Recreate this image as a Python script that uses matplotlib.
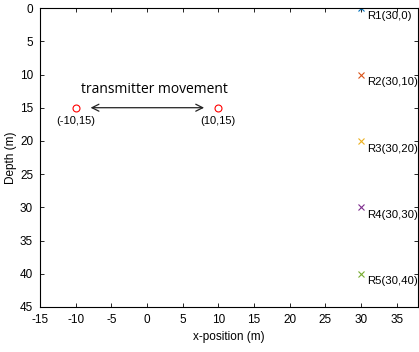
import matplotlib
matplotlib.use("Agg")
import matplotlib.pyplot as plt

# --- Data ---------------------------------------------------------------------
tx_x = [-10, 10]
tx_y = [15, 15]
tx_labels = ["(-10,15)", "(10,15)"]

rx_x = [30, 30, 30, 30, 30]
rx_y = [0, 10, 20, 30, 40]
rx_labels = ["R1(30,0)", "R2(30,10)", "R3(30,20)", "R4(30,30)", "R5(30,40)"]
rx_colors = ["#0072BD", "#D95319", "#EDB120", "#7E2F8E", "#77AC30"]

x_ticks = [-15, -10, -5, 0, 5, 10, 15, 20, 25, 30, 35]
y_ticks = [0, 5, 10, 15, 20, 25, 30, 35, 40, 45]

plt.rcParams["font.family"] = ["Liberation Sans", "DejaVu Sans"]
plt.rcParams["axes.unicode_minus"] = False

fig = plt.figure(figsize=(4.19, 3.52), dpi=100)
ax = fig.add_axes([0.0955, 0.128, 0.9021, 0.849])

# transmitter positions
ax.plot(tx_x, tx_y, "o", mfc="none", mec="#FF0000", ms=5, mew=0.8, ls="none")
for x, y, t in zip(tx_x, tx_y, tx_labels):
    ax.text(x, y + 1.2, t, ha="center", va="top", fontsize=8)

# movement arrow
ax.annotate("", xy=(-8.3, 15), xytext=(8.4, 15),
            arrowprops=dict(arrowstyle="<->,head_length=0.5,head_width=0.25",
                            color="#222222", lw=0.9))
ax.text(1.0, 13.4, "transmitter movement", ha="center", va="bottom",
        fontsize=10, family=["Open Sans", "DejaVu Sans"])

# receivers
for x, y, t, c in zip(rx_x, rx_y, rx_labels, rx_colors):
    ax.plot(x, y, "x", color=c, ms=5, mew=0.8)
    ax.text(x + 0.9, y + 0.4, t, ha="left", va="top", fontsize=8.2)

ax.set_xlim(-15, 38)
ax.set_ylim(45, 0)
ax.set_xticks(x_ticks)
ax.set_yticks(y_ticks)
ax.tick_params(direction="in", top=True, right=True, labelsize=8.5,
               length=3, width=0.6)
ax.tick_params(axis="x", pad=5)
ax.tick_params(axis="y", pad=5)
for s in ax.spines.values():
    s.set_linewidth(0.8)
ax.set_xlabel("x-position (m)", fontsize=8.5, labelpad=4)
ax.set_ylabel("Depth (m)", fontsize=8.5, labelpad=2)

fig.savefig("out.png", dpi=100)
